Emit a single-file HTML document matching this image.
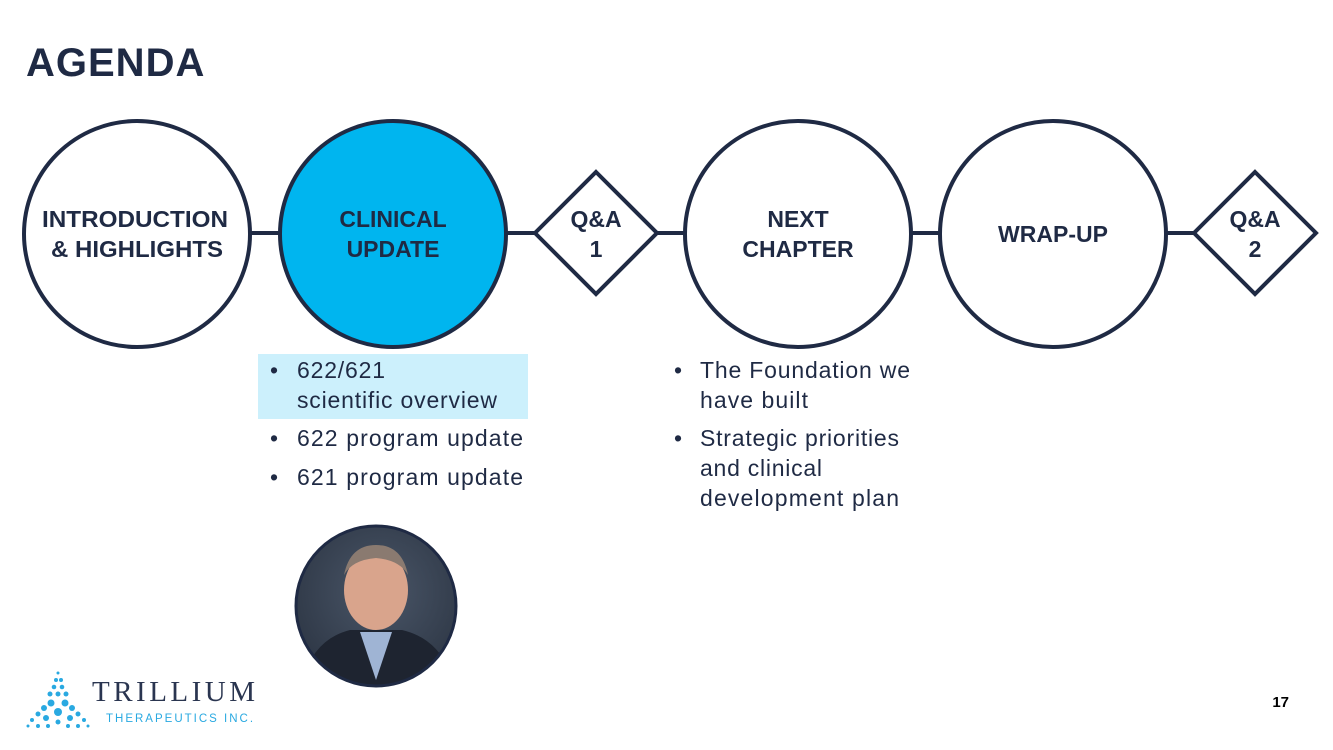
<!DOCTYPE html>
<html><head><meta charset="utf-8"><style>
html,body{margin:0;padding:0;background:#fff;}
body{width:1333px;height:750px;position:relative;overflow:hidden;font-family:"Liberation Sans",sans-serif;}
</style></head><body>
<svg width="1333" height="750" viewBox="0 0 1333 750" style="position:absolute;left:0;top:0">
<defs>
<radialGradient id="bg" cx="0.5" cy="0.4" r="0.6"><stop offset="0" stop-color="#4a5668"/><stop offset="1" stop-color="#2b3442"/></radialGradient>
<clipPath id="pc"><circle cx="376" cy="606" r="79"/></clipPath>
</defs>
<text x="26" y="76" font-family="Liberation Sans" font-weight="bold" font-size="40" fill="#1f2a44" letter-spacing="1">AGENDA</text>
<line x1="240" y1="233" x2="1200" y2="233" stroke="#1f2a44" stroke-width="4"/>
<g stroke="#1f2a44" stroke-width="4">
<circle cx="137" cy="234" r="113" fill="#fff"/>
<circle cx="393" cy="234" r="113" fill="#00b5ef"/>
<polygon points="596,172 657,233 596,294 535,233" fill="#fff"/>
<circle cx="798" cy="234" r="113" fill="#fff"/>
<circle cx="1053" cy="234" r="113" fill="#fff"/>
<polygon points="1255,172 1316,233 1255,294 1194,233" fill="#fff"/>
</g>
<g font-family="Liberation Sans" font-weight="bold" font-size="23" fill="#1f2a44" text-anchor="middle">
<text x="135" y="227" textLength="186" lengthAdjust="spacingAndGlyphs">INTRODUCTION</text><text x="137" y="257" textLength="172" lengthAdjust="spacingAndGlyphs">&amp; HIGHLIGHTS</text>
<text x="393" y="227">CLINICAL</text><text x="393" y="257">UPDATE</text>
<text x="596" y="227">Q&amp;A</text><text x="596" y="257">1</text>
<text x="798" y="227">NEXT</text><text x="798" y="257">CHAPTER</text>
<text x="1053" y="242">WRAP-UP</text>
<text x="1255" y="227">Q&amp;A</text><text x="1255" y="257">2</text>
</g>
<rect x="258" y="354" width="270" height="65" fill="#ccf0fc"/>
<g font-family="Liberation Sans" font-size="23" fill="#1f2a44" lengthAdjust="spacingAndGlyphs">
<text x="270" y="378">•</text><text x="297" y="378" textLength="88">622/621</text>
<text x="297" y="408" textLength="200">scientific overview</text>
<text x="270" y="446">•</text><text x="297" y="446" textLength="226">622 program update</text>
<text x="270" y="485">•</text><text x="297" y="485" textLength="226">621 program update</text>
<text x="674" y="378">•</text><text x="700" y="378" textLength="210">The Foundation we</text>
<text x="700" y="408" textLength="108">have built</text>
<text x="674" y="446">•</text><text x="700" y="446" textLength="199">Strategic priorities</text>
<text x="700" y="476" textLength="122">and clinical</text>
<text x="700" y="506" textLength="199">development plan</text>
</g>
<circle cx="376" cy="606" r="80" fill="#1f2a44"/>
<g clip-path="url(#pc)">
<rect x="290" y="520" width="180" height="180" fill="url(#bg)"/>
<path d="M300,690 Q310,640 350,630 L402,630 Q445,640 455,690 Z" fill="#1e2430"/>
<path d="M360,632 L376,680 L392,632 Z" fill="#9fb4d4"/>
<ellipse cx="376" cy="590" rx="32" ry="40" fill="#d9a48c"/>
<path d="M344,575 Q350,545 376,545 Q402,545 408,575 Q400,560 376,558 Q352,560 344,575Z" fill="#8a7a70"/>
</g>
<circle cx="376" cy="606" r="80" fill="none" stroke="#1f2a44" stroke-width="3"/>
<g fill="#29a9e1">
<circle cx="58" cy="673" r="1.5"/><circle cx="56" cy="680" r="2"/><circle cx="61" cy="680" r="2"/>
<circle cx="54" cy="687" r="2.3"/><circle cx="62" cy="687" r="2.3"/><circle cx="50" cy="694" r="2.5"/><circle cx="58" cy="694" r="2.5"/><circle cx="66" cy="694" r="2.5"/>
<circle cx="51" cy="703" r="3.5"/><circle cx="65" cy="703" r="3.5"/>
<circle cx="44" cy="708" r="3"/><circle cx="72" cy="708" r="3"/><circle cx="58" cy="712" r="4"/>
<circle cx="38" cy="714" r="2.5"/><circle cx="78" cy="714" r="2.5"/><circle cx="46" cy="718" r="3"/><circle cx="70" cy="718" r="3"/>
<circle cx="32" cy="720" r="2"/><circle cx="84" cy="720" r="2"/><circle cx="58" cy="722" r="2.5"/>
<circle cx="28" cy="726" r="1.5"/><circle cx="38" cy="726" r="2"/><circle cx="48" cy="726" r="2"/><circle cx="68" cy="726" r="2"/><circle cx="78" cy="726" r="2"/><circle cx="88" cy="726" r="1.5"/>
</g>
<text x="92" y="701" font-family="Liberation Serif" font-size="29" fill="#2a3550" textLength="163" lengthAdjust="spacing">TRILLIUM</text>
<text x="106" y="722" font-family="Liberation Sans" font-size="11.5" fill="#29a9e1" letter-spacing="2">THERAPEUTICS INC.</text>
<text x="1289" y="707" font-family="Liberation Sans" font-weight="bold" font-size="15" fill="#000" text-anchor="end">17</text>
</svg>
</body></html>
